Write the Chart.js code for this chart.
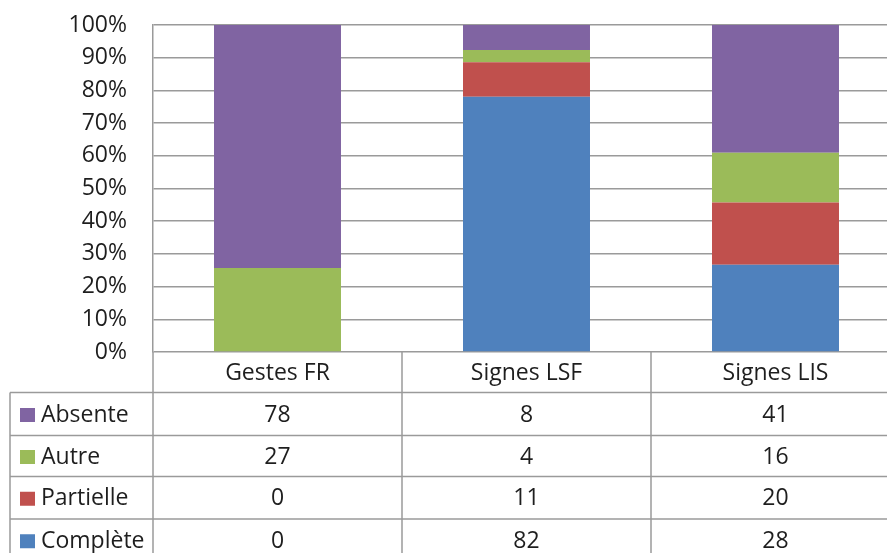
<!DOCTYPE html>
<html>
<head>
<meta charset="utf-8">
<script src="https://cdn.jsdelivr.net/npm/chart.js@4"></script>
<style>
  html, body { margin: 0; padding: 0; background: #fff; overflow: hidden; }
  #wrap { width: 887px; height: 553px; overflow: hidden; }
  #wrap div { width: 900px; height: 553px; position: relative; }
</style>
</head>
<body>
<div id="wrap"><div><canvas id="chart"></canvas></div></div>
<script>
const categories = ["Gestes FR", "Signes LSF", "Signes LIS"];
const seriesNames = ["Complète", "Partielle", "Autre", "Absente"];
const complete = [0, 82, 28];
const partial = [0, 11, 20];
const other = [27, 4, 16];
const absent = [78, 8, 41];
const colors = ["#4F81BD", "#C0504D", "#9BBB59", "#8064A2"];
const yTicks = [0, 10, 20, 30, 40, 50, 60, 70, 80, 90, 100];

const counts = [complete, partial, other, absent];
const totals = categories.map((_, i) => counts.reduce((s, arr) => s + arr[i], 0));
const pct = arr => arr.map((v, i) => v / totals[i] * 100);

const FONT = '"Open Sans", sans-serif';
const GRID = "#9a9a9a";

// table under the plot: header row + one row per series (Absente on top)
const tablePlugin = {
  id: "dataTable",
  afterDraw(chart) {
    const ctx = chart.ctx;
    const x = chart.scales.x;
    const area = chart.chartArea;
    const rowH = [40.5, 43, 41, 42.5, 42.5];
    const tableLeft = 10;
    const right = chart.width;
    const colW = (area.right - area.left) / categories.length;

    const ys = [area.bottom];
    rowH.forEach(h => ys.push(ys[ys.length - 1] + h));

    ctx.save();
    ctx.strokeStyle = GRID;
    ctx.lineWidth = 1.5;
    // horizontal lines
    for (let r = 1; r < ys.length - 1; r++) {
      ctx.beginPath();
      ctx.moveTo(tableLeft, ys[r]);
      ctx.lineTo(right, ys[r]);
      ctx.stroke();
    }
    // left border of the series-name column
    ctx.beginPath();
    ctx.moveTo(tableLeft, ys[1]);
    ctx.lineTo(tableLeft, chart.height);
    ctx.stroke();
    // column separators
    for (let c = 0; c <= categories.length; c++) {
      const cx = area.left + c * colW;
      ctx.beginPath();
      ctx.moveTo(cx, area.bottom);
      ctx.lineTo(cx, chart.height);
      ctx.stroke();
    }

    ctx.fillStyle = "#1e1e1e";
    ctx.font = "23px " + FONT;
    ctx.textBaseline = "middle";
    ctx.textAlign = "center";
    categories.forEach((name, i) => {
      ctx.fillText(name, x.getPixelForValue(i), (ys[0] + ys[1]) / 2 + 1);
    });

    const order = [3, 2, 1, 0];
    order.forEach((s, r) => {
      const cy = (ys[r + 1] + ys[r + 2]) / 2 + 1;
      ctx.fillStyle = colors[s];
      ctx.fillRect(20, cy - 7, 15, 14);
      ctx.fillStyle = "#1e1e1e";
      ctx.textAlign = "left";
      ctx.fillText(seriesNames[s], 41, cy);
      ctx.textAlign = "center";
      counts[s].forEach((v, i) => {
        ctx.fillText(String(v), x.getPixelForValue(i), cy);
      });
    });
    ctx.restore();
  }
};

new Chart(document.getElementById("chart"), {
  type: "bar",
  data: {
    labels: categories,
    datasets: seriesNames.map((name, s) => ({
      label: name,
      data: pct(counts[s]),
      backgroundColor: colors[s],
      borderWidth: 0,
      categoryPercentage: 1,
      barPercentage: 0.51
    }))
  },
  options: {
    responsive: true,
    maintainAspectRatio: false,
    animation: false,
    layout: { padding: { top: 25, bottom: 201, right: 0, left: 0 } },
    plugins: { legend: { display: false }, tooltip: { enabled: false } },
    scales: {
      x: {
        stacked: true,
        display: false
      },
      y: {
        stacked: true,
        min: 0,
        max: 100,
        afterFit(scale) {
          scale.width = 153;
          scale.paddingTop = 0;
          scale.paddingBottom = 0;
        },
        afterBuildTicks(scale) { scale.ticks = yTicks.map(v => ({ value: v })); },
        border: { color: GRID, width: 1.5 },
        grid: { color: GRID, lineWidth: 1.5, drawTicks: false },
        ticks: {
          padding: 26,
          color: "#1e1e1e",
          font: { family: FONT, size: 23, lineHeight: 1 },
          callback: v => v + "%"
        }
      }
    }
  },
  plugins: [tablePlugin]
});
</script>
</body>
</html>
